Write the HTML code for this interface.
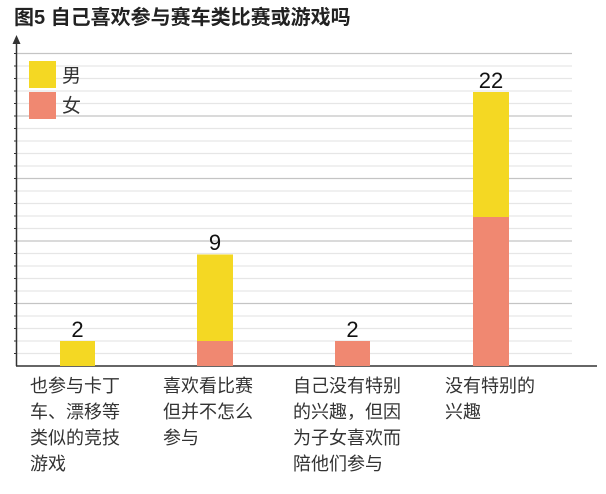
<!DOCTYPE html><html><head><meta charset="utf-8"><style>body{margin:0;background:#fff}svg{display:block}text{font-family:"Liberation Sans","Noto Sans CJK SC",sans-serif}</style></head><body>
<svg width="606" height="494" xmlns="http://www.w3.org/2000/svg">
<text x="14" y="24" font-size="20" font-weight="bold" fill="#222">图5 自己喜欢参与赛车类比赛或游戏吗</text>
<g stroke="#e6e6e6" stroke-width="1.2">
<line x1="17" x2="572" y1="353.5" y2="353.5"/><line x1="17" x2="572" y1="341" y2="341"/><line x1="17" x2="572" y1="328.5" y2="328.5"/><line x1="17" x2="572" y1="316" y2="316"/>
<line x1="17" x2="572" y1="291" y2="291"/><line x1="17" x2="572" y1="278.5" y2="278.5"/><line x1="17" x2="572" y1="266" y2="266"/><line x1="17" x2="572" y1="253.5" y2="253.5"/>
<line x1="17" x2="572" y1="228.5" y2="228.5"/><line x1="17" x2="572" y1="216" y2="216"/><line x1="17" x2="572" y1="203.5" y2="203.5"/><line x1="17" x2="572" y1="191" y2="191"/>
<line x1="17" x2="572" y1="166" y2="166"/><line x1="17" x2="572" y1="153.5" y2="153.5"/><line x1="17" x2="572" y1="141" y2="141"/><line x1="17" x2="572" y1="128.5" y2="128.5"/>
<line x1="17" x2="572" y1="103.5" y2="103.5"/><line x1="17" x2="572" y1="91" y2="91"/><line x1="17" x2="572" y1="78.5" y2="78.5"/><line x1="17" x2="572" y1="66" y2="66"/>
</g>
<g stroke-width="1.2" stroke="#c4c4c4">
<line x1="17" x2="572" y1="53.5" y2="53.5"/>
<line x1="17" x2="572" y1="116" y2="116"/>
<line x1="17" x2="572" y1="178.5" y2="178.5"/>
<line x1="17" x2="572" y1="241" y2="241"/>
<line x1="17" x2="572" y1="303.5" y2="303.5"/>
</g>
<g stroke="#333" stroke-width="1">
<line x1="14" x2="17" y1="353.5" y2="353.5"/><line x1="14" x2="17" y1="341" y2="341"/><line x1="14" x2="17" y1="328.5" y2="328.5"/><line x1="14" x2="17" y1="316" y2="316"/><line x1="14" x2="17" y1="303.5" y2="303.5"/>
<line x1="14" x2="17" y1="291" y2="291"/><line x1="14" x2="17" y1="278.5" y2="278.5"/><line x1="14" x2="17" y1="266" y2="266"/><line x1="14" x2="17" y1="253.5" y2="253.5"/><line x1="14" x2="17" y1="241" y2="241"/>
<line x1="14" x2="17" y1="228.5" y2="228.5"/><line x1="14" x2="17" y1="216" y2="216"/><line x1="14" x2="17" y1="203.5" y2="203.5"/><line x1="14" x2="17" y1="191" y2="191"/><line x1="14" x2="17" y1="178.5" y2="178.5"/>
<line x1="14" x2="17" y1="166" y2="166"/><line x1="14" x2="17" y1="153.5" y2="153.5"/><line x1="14" x2="17" y1="141" y2="141"/><line x1="14" x2="17" y1="128.5" y2="128.5"/><line x1="14" x2="17" y1="116" y2="116"/>
<line x1="14" x2="17" y1="103.5" y2="103.5"/><line x1="14" x2="17" y1="91" y2="91"/><line x1="14" x2="17" y1="78.5" y2="78.5"/><line x1="14" x2="17" y1="66" y2="66"/><line x1="14" x2="17" y1="53.5" y2="53.5"/>
</g>
<line x1="16" y1="366" x2="597" y2="366" stroke="#333" stroke-width="1.5"/>
<line x1="16.5" y1="366" x2="16.5" y2="38" stroke="#333" stroke-width="1.5"/>
<path d="M12.5 44 L16.5 35 L20.5 44 Z" fill="#333"/>
<rect x="29" y="61" width="27" height="27" fill="#f4d823"/>
<rect x="29" y="92" width="27" height="27" fill="#f08871"/>
<text x="62" y="82" font-size="19" fill="#333">男</text>
<text x="62" y="112" font-size="19" fill="#333">女</text>
<rect x="60" y="341" width="35" height="25" fill="#f4d823"/>
<rect x="197" y="254.5" width="36" height="87" fill="#f4d823"/>
<rect x="197" y="341" width="36" height="25" fill="#f08871"/>
<rect x="335" y="341" width="35" height="25" fill="#f08871"/>
<rect x="473" y="92" width="36" height="125" fill="#f4d823"/>
<rect x="473" y="217" width="36" height="149" fill="#f08871"/>
<g font-size="22" fill="#111" text-anchor="middle">
<text x="77.5" y="337">2</text><text x="215" y="250">9</text><text x="352.5" y="337">2</text><text x="491" y="88">22</text>
</g>
<g font-size="18" fill="#333">
<text x="30" y="392">也参与卡丁</text><text x="30" y="418">车、漂移等</text><text x="30" y="444">类似的竞技</text><text x="30" y="470">游戏</text>
<text x="163" y="392">喜欢看比赛</text><text x="163" y="418">但并不怎么</text><text x="163" y="444">参与</text>
<text x="293" y="392">自己没有特别</text><text x="293" y="418">的兴趣，但因</text><text x="293" y="444">为子女喜欢而</text><text x="293" y="470">陪他们参与</text>
<text x="445" y="392">没有特别的</text><text x="445" y="418">兴趣</text>
</g>
</svg></body></html>
